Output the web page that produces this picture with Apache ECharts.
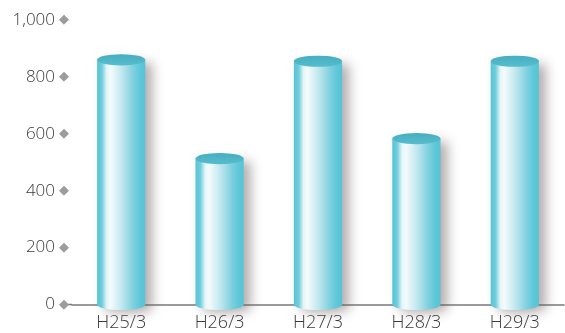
<!DOCTYPE html>
<html>
<head>
<meta charset="utf-8">
<style>
  html, body { margin: 0; padding: 0; background: #ffffff; }
  #chart { width: 565px; height: 333px; }
</style>
<script src="https://cdn.jsdelivr.net/npm/echarts@6/dist/echarts.min.js"></script>
</head>
<body>
<div id="chart"></div>
<script>
// Fiscal-year end points (Heisei era) and their values
const categories = ['H25/3', 'H26/3', 'H27/3', 'H28/3', 'H29/3'];
const values = [860, 513, 855, 583, 855];

// Value axis range and tick step
const yMin = 0;
const yMax = 1000;
const yStep = 200;

const GRID_LEFT = 72;
const TEXT_COLOR = '#3a3a3a';
const FONT = 'Open Sans';

function withThousands(v) {
  return String(v).replace(/\B(?=(\d{3})+(?!\d))/g, ',');
}

// Draws one cylinder: body with rounded bottom, and an elliptical cap
function renderCylinder(params, api) {
  const idx = api.value(0);
  const val = api.value(1);
  const base = api.coord([idx, 0]);
  const top = api.coord([idx, val]);
  const w = api.size([1, 0])[0] * 0.49;
  const r = w / 2;
  const ry = 5.6;
  const cx = base[0];
  const left = cx - r;
  const right = cx + r;

  const bodyFill = new echarts.graphic.LinearGradient(0, 0, 1, 0, [
    { offset: 0.00, color: '#55c4d6' },
    { offset: 0.10, color: '#6fcddc' },
    { offset: 0.20, color: '#e3f5f8' },
    { offset: 0.28, color: '#f4fbfc' },
    { offset: 0.50, color: '#c4e8ef' },
    { offset: 0.75, color: '#7fd0de' },
    { offset: 0.90, color: '#5cc7d8' },
    { offset: 1.00, color: '#56c4d5' }
  ]);
  const capFill = new echarts.graphic.LinearGradient(0, 0, 0, 1, [
    { offset: 0, color: '#45aebf' },
    { offset: 1, color: '#56bdcd' }
  ]);

  const d = 'M' + left + ',' + top[1] +
    ' L' + left + ',' + base[1] +
    ' A' + r + ',' + ry + ' 0 0 0 ' + right + ',' + base[1] +
    ' L' + right + ',' + top[1] + ' Z';

  return {
    type: 'group',
    children: [
      {
        type: 'path',
        shape: { pathData: d },
        style: {
          fill: bodyFill,
          shadowBlur: 12,
          shadowOffsetX: 7,
          shadowOffsetY: 3,
          shadowColor: 'rgba(105, 90, 90, 0.5)'
        }
      },
      {
        type: 'circle',
        shape: { cx: 0, cy: 0, r: r },
        x: cx,
        y: top[1],
        scaleY: ry / r,
        style: { fill: capFill }
      }
    ]
  };
}

const chart = echarts.init(document.getElementById('chart'), null, { renderer: 'canvas' });

chart.setOption({
  animation: false,
  backgroundColor: '#ffffff',
  grid: { left: GRID_LEFT, right: 1, top: 20, bottom: 28.5, containLabel: false },
  xAxis: {
    type: 'category',
    data: categories,
    axisLine: { lineStyle: { color: '#7a7a7a', width: 1.5 } },
    axisTick: { show: false },
    axisLabel: {
      fontSize: 18,
      color: TEXT_COLOR,
      fontFamily: FONT,
      fontWeight: 300,
      margin: 9
    }
  },
  yAxis: {
    type: 'value',
    min: yMin,
    max: yMax,
    interval: yStep,
    splitLine: { show: false },
    axisLine: { show: false },
    axisTick: { show: false },
    axisLabel: {
      margin: 3,
      formatter: function (v) { return '{v|' + withThousands(v) + '}{d|◆}'; },
      rich: {
        v: { fontSize: 17, color: TEXT_COLOR, fontFamily: FONT, fontWeight: 300, verticalAlign: 'middle' },
        d: { fontSize: 13, color: '#9c9c9c', fontFamily: 'DejaVu Sans', padding: [0, 0, 0, 4], verticalAlign: 'middle' }
      }
    }
  },
  series: [{
    type: 'custom',
    renderItem: renderCylinder,
    encode: { x: 0, y: 1 },
    data: values.map(function (v, i) { return [i, v]; }),
    z: 3
  }]
});

// Short stub of the baseline reaching back to the tick diamonds
const y0 = chart.convertToPixel({ yAxisIndex: 0 }, 0);
chart.setOption({
  graphic: [{
    type: 'line',
    shape: { x1: GRID_LEFT - 7, y1: y0, x2: GRID_LEFT, y2: y0 },
    style: { stroke: '#7a7a7a', lineWidth: 1.5 },
    z: 0
  }]
});
</script>
</body>
</html>
